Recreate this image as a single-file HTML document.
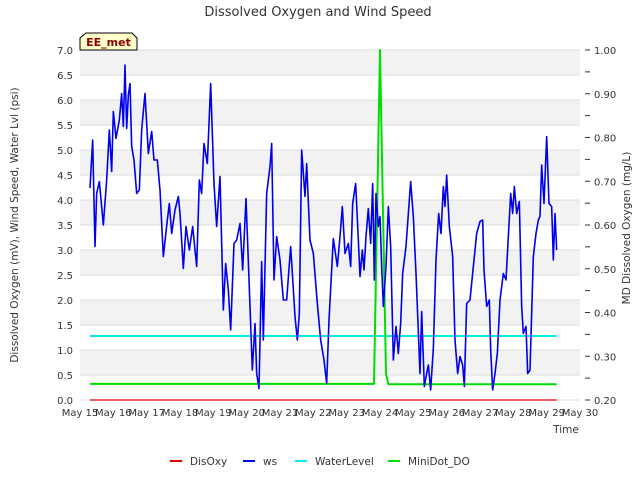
<!DOCTYPE html>
<html><head><meta charset="utf-8"><style>
body{margin:0;background:#fff;}
svg text{font-family:"DejaVu Sans","Liberation Sans",sans-serif;}
</style></head><body>
<svg id="chart" width="640" height="480" xmlns="http://www.w3.org/2000/svg">
<text x="318" y="16" text-anchor="middle" font-size="13" fill="#333">Dissolved Oxygen and Wind Speed</text>
<g id="bands"></g>
<g id="axes"></g>
<g id="series"></g>
<path d="M80,50 L80,38 L86,33 L132,33 L137,38 L137,50 Z" fill="#ffffcc" stroke="#000" stroke-width="1"/>
<text x="108.5" y="46" text-anchor="middle" font-size="11" font-weight="bold" fill="#8b0000">EE_met</text>
<text transform="translate(18,225) rotate(-90)" text-anchor="middle" font-size="10.5" fill="#333">Dissolved Oxygen (mV), Wind Speed, Water Lvl (psi)</text>
<text transform="translate(630,228) rotate(-90)" text-anchor="middle" font-size="10.5" fill="#333">MD Dissolved Oxygen (mg/L)</text>
<text x="566" y="433" text-anchor="middle" font-size="10.5" fill="#333">Time</text>
<g id="legend"></g>
</svg>
<script>
const xTickLabels=["May 15","May 16","May 17","May 18","May 19","May 20","May 21","May 22","May 23","May 24","May 25","May 26","May 27","May 28","May 29","May 30"];
const yTicks=[0,0.5,1,1.5,2,2.5,3,3.5,4,4.5,5,5.5,6,6.5,7];
const y2Labels=[0.2,0.3,0.4,0.5,0.6,0.7,0.8,0.9,1.0];
const wsDays=[0.30,0.38,0.45,0.50,0.58,0.70,0.80,0.88,0.95,1.00,1.08,1.18,1.25,1.30,1.35,1.40,1.45,1.50,1.55,1.62,1.70,1.78,1.85,1.95,2.05,2.15,2.22,2.32,2.40,2.50,2.62,2.68,2.75,2.85,2.95,3.00,3.10,3.18,3.28,3.38,3.50,3.58,3.65,3.72,3.82,3.92,4.02,4.10,4.20,4.30,4.37,4.45,4.52,4.62,4.70,4.80,4.88,4.98,5.10,5.17,5.25,5.30,5.37,5.45,5.50,5.60,5.70,5.75,5.82,5.90,6.00,6.10,6.20,6.32,6.45,6.52,6.58,6.65,6.75,6.80,6.90,7.00,7.12,7.22,7.32,7.40,7.47,7.60,7.72,7.80,7.87,7.95,8.05,8.12,8.18,8.27,8.35,8.40,8.47,8.52,8.58,8.65,8.72,8.78,8.83,8.88,8.95,9.00,9.05,9.10,9.18,9.25,9.32,9.40,9.48,9.55,9.62,9.68,9.78,9.92,10.00,10.08,10.20,10.25,10.33,10.40,10.45,10.52,10.60,10.68,10.76,10.83,10.90,10.95,11.00,11.08,11.18,11.25,11.33,11.40,11.48,11.53,11.60,11.70,11.80,11.90,12.00,12.08,12.12,12.20,12.28,12.32,12.38,12.45,12.52,12.60,12.70,12.78,12.85,12.92,12.98,13.03,13.10,13.18,13.25,13.30,13.38,13.43,13.50,13.60,13.68,13.75,13.80,13.85,13.92,14.00,14.07,14.15,14.20,14.25,14.30];
const wsValues=[4.24,5.2,3.07,4.13,4.37,3.5,4.4,5.4,4.57,5.77,5.23,5.6,6.13,5.47,6.7,5.43,6.1,6.33,5.07,4.8,4.13,4.2,5.4,6.13,4.93,5.37,4.8,4.8,4.2,2.87,3.6,3.93,3.33,3.8,4.07,3.73,2.63,3.47,3.0,3.47,2.67,4.4,4.13,5.13,4.73,6.33,4.33,3.47,4.47,1.8,2.73,2.2,1.4,3.13,3.2,3.53,2.6,4.03,1.87,0.6,1.53,0.53,0.23,2.77,1.2,4.13,4.67,5.13,2.4,3.27,2.8,2.0,2.0,3.07,1.67,1.2,1.73,5.0,4.07,4.73,3.2,2.93,1.93,1.2,0.8,0.33,1.6,3.23,2.67,3.27,3.87,2.93,3.13,2.67,3.93,4.33,3.2,2.47,3.0,2.6,3.27,3.83,3.13,4.33,2.4,4.13,3.47,3.67,2.67,1.87,2.67,3.87,3.07,0.8,1.47,0.93,1.53,2.53,3.07,4.37,3.67,2.53,0.53,1.77,0.27,0.53,0.7,0.2,1.03,2.8,3.73,3.33,4.27,3.87,4.5,3.47,2.87,1.2,0.53,0.87,0.7,0.27,1.93,2.0,2.67,3.33,3.57,3.6,2.6,1.87,2.0,1.0,0.2,0.53,0.93,2.0,2.53,2.4,3.27,4.13,3.73,4.27,3.73,3.97,1.87,1.33,1.47,0.53,0.6,2.87,3.33,3.6,3.67,4.7,3.93,5.27,3.93,3.87,2.8,3.73,3.0];
const doDays=[0.30,8.82,9.0,9.18,9.25,14.30];
const doValues=[0.237,0.237,1.0,0.26,0.236,0.236];
const wlDays=[0.30,14.30];
const wlValues=[1.28,1.28];
const disDays=[0.30,14.30];
const disValues=[0,0];

const X0=80,X1=580,Y0=400,Y1=50;
const xs=d=>X0+d*(X1-X0)/15;
const ys=v=>Y0-v*(Y0-Y1)/7;
const ys2=v=>Y0-(v-0.2)*(Y0-Y1)/0.8;
const NS="http://www.w3.org/2000/svg";
function mk(t,a,p){const e=document.createElementNS(NS,t);for(const k in a)e.setAttribute(k,a[k]);p.appendChild(e);return e;}
const bands=document.getElementById('bands'),axes=document.getElementById('axes'),ser=document.getElementById('series'),leg=document.getElementById('legend');
for(let i=0;i<14;i++){
  if(i%2===0){const r=mk('rect',{x:X0,y:ys(7-i*0.5),width:X1-X0,height:25,fill:'#f2f2f2'},bands);
  
  }
}
yTicks.forEach(v=>{
  const l=mk('line',{x1:X0,x2:X1,y1:ys(v),y2:ys(v),stroke:'#dcdcdc','stroke-width':1},bands);
  
  
  const t=mk('text',{x:X0-7,y:ys(v)+4,'text-anchor':'end','font-size':'10',fill:'#333'},axes);t.textContent=v.toFixed(1);
  
  
});
for(let i=0;i<=16;i++){const v=0.2+i*0.05;
  const tk=mk('line',{x1:X1+5,x2:X1+10,y1:ys2(v),y2:ys2(v),stroke:'#333','stroke-width':1},axes);
  
  }
y2Labels.forEach(v=>{
  const t=mk('text',{x:X1+14,y:ys2(v)+4,'font-size':'10',fill:'#333'},axes);t.textContent=v.toFixed(2);
  
  
});
xTickLabels.forEach((s,i)=>{
  const t=mk('text',{x:xs(i),y:Y0+16,'text-anchor':'middle','font-size':'10',fill:'#333'},axes);t.textContent=s;
  
  
});
function line(days,vals,sc,color,w,name){
  const p=mk('polyline',{points:days.map((d,i)=>xs(d)+','+sc(vals[i])).join(' '),fill:'none',stroke:color,'stroke-width':w,'stroke-linejoin':'round'},ser);
  
  
}
line(disDays,disValues,ys,'#dd0000',1.2,'disoxy-line');
line(wlDays,wlValues,ys,'#00eeee',2,'waterlevel-line');
line(doDays,doValues,ys2,'#00dd00',2,'minidot-do-line');
line(wsDays,wsValues,ys,'#0000ee',1.6,'ws-line');
const legItems=[["DisOxy","#dd0000",170],["ws","#0000ee",243],["WaterLevel","#00eeee",295],["MiniDot_DO","#00dd00",388]];
legItems.forEach(([n,c,x])=>{
  const g=mk('g',{},leg);
  
  
  mk('line',{x1:x,x2:x+12,y1:461,y2:461,stroke:c,'stroke-width':2},g);
  const t=mk('text',{x:x+20,y:465,'font-size':'10.5',fill:'#333'},g);t.textContent=n;
});
</script>
</body></html>
